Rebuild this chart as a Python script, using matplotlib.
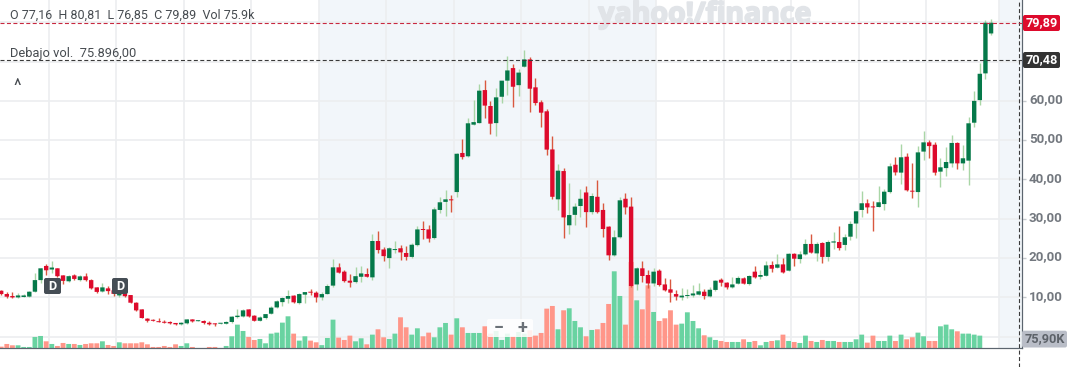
"""Monthly candles with volume, Yahoo Finance style"""
import matplotlib
matplotlib.use('Agg')
import matplotlib.pyplot as plt
import matplotlib.patheffects as pe
from matplotlib.lines import Line2D
from matplotlib.patches import FancyBboxPatch
from matplotlib.transforms import IdentityTransform, ScaledTranslation

plt.rcParams['font.family'] = ['Roboto', 'Liberation Sans', 'DejaVu Sans']

UP = '#05794a'
DOWN = '#dd0a2c'
UP_WICK = '#a9d6a6'
DOWN_WICK = '#d9583f'
UP_VOL = '#69d3a1'
DOWN_VOL = '#ff9689'
GRID = '#eceef0'
SHADE = '#f2f6fa'
AXIS_TEXT = '#73787f'
AXIS_LINE = '#5c656f'

# months counted from January 2011
first_month = -9
opens = [11.7, 10.86, 10.35, 10.0, 10.1, 10.2, 11.45, 14.4, 18.0, 17.1, 17.4, 15.6, 14.1, 15.6, 14.4, 15.35,
         14.4, 12.55, 11.5, 12.3, 11.8, 10.5, 11.0, 10.6, 8.65, 6.95, 4.6, 4.3, 3.9, 3.8, 3.75, 3.5,
         3.15, 3.4, 4.4, 3.95, 4.0, 3.55, 3.2, 3.3, 3.3, 3.75, 5.0, 5.15, 6.95, 5.35, 4.05, 4.75,
         5.85, 7.45, 8.8, 9.65, 10.45, 8.55, 10.7, 11.4, 11.2, 10.0, 10.85, 13.0, 17.65, 16.55, 14.25, 13.9,
         15.25, 15.95, 15.1, 24.35, 22.2, 20.0, 22.05, 22.5, 21.3, 20.3, 23.3, 27.3, 27.3, 25.1, 32.25, 34.3,
         34.85, 36.8, 46.75, 45.9, 53.95, 54.35, 62.75, 58.7, 54.35, 61.05, 65.15, 68.35, 64.0, 68.7, 70.55, 63.45,
         59.65, 57.35, 47.65, 34.95, 42.15, 28.35, 31.0, 33.25, 36.7, 31.7, 35.6, 32.25, 28.0, 20.7, 25.3, 35.1,
         33.1, 13.3, 17.4, 15.7, 13.55, 16.8, 13.3, 12.05, 10.85, 10.0, 10.35, 10.5, 10.7, 11.45, 10.25, 11.9,
         14.5, 13.75, 12.55, 13.5, 14.85, 13.4, 16.55, 15.25, 15.5, 18.25, 17.55, 18.4, 16.8, 21.1, 19.75, 20.95,
         23.6, 21.2, 23.85, 20.3, 23.95, 24.1, 23.35, 25.45, 28.8, 32.25, 33.95, 33.1, 33.0, 33.75, 36.8, 43.75,
         41.75, 45.8, 37.15, 36.8, 47.1, 49.45, 48.85, 42.0, 42.9, 44.1, 49.3, 44.1, 44.8, 54.45, 60.2, 67.0, 77.16]
highs = [12.0, 11.4, 11.4, 11.2, 10.8, 11.7, 16.1, 17.55, 18.4, 19.25, 17.55, 15.7, 15.6, 15.9, 15.6, 16.1,
         14.6, 12.7, 13.7, 13.0, 11.8, 12.0, 11.2, 10.7, 8.8, 7.0, 4.85, 4.55, 4.7, 4.3, 3.9, 3.55,
         3.75, 4.6, 4.6, 4.2, 4.15, 4.0, 3.5, 3.5, 4.0, 5.35, 7.05, 7.05, 7.1, 5.5, 5.2, 5.9,
         7.7, 9.35, 10.2, 11.8, 10.7, 11.0, 11.45, 12.05, 11.6, 11.5, 13.3, 19.75, 18.8, 17.0, 15.85, 17.65,
         18.0, 17.4, 26.05, 26.8, 22.9, 22.75, 24.25, 23.25, 23.05, 23.9, 28.05, 29.35, 28.5, 33.1, 35.45, 37.3,
         36.15, 46.8, 50.3, 55.55, 60.2, 64.3, 65.3, 60.0, 63.2, 65.15, 71.4, 69.4, 68.0, 72.95, 71.1, 65.8,
         60.2, 57.95, 51.15, 43.95, 42.9, 39.0, 34.1, 37.5, 38.4, 36.5, 39.85, 33.9, 28.25, 27.15, 35.45, 36.5,
         35.6, 17.8, 19.15, 17.0, 17.4, 17.1, 14.95, 14.6, 11.8, 12.45, 12.2, 13.15, 13.6, 12.2, 12.55, 14.4,
         14.85, 13.9, 15.25, 15.45, 15.1, 15.6, 18.0, 17.0, 19.35, 19.35, 21.1, 19.95, 21.3, 21.4, 21.7, 24.75,
         26.05, 24.2, 24.1, 24.5, 26.65, 28.1, 26.05, 29.35, 32.1, 37.05, 34.95, 34.45, 38.35, 37.65, 44.3, 45.65,
         48.95, 46.8, 44.3, 48.4, 52.35, 50.0, 49.55, 45.45, 48.2, 51.4, 49.6, 48.8, 55.8, 62.6, 69.7, 80.6, 80.81]
lows = [10.6, 9.84, 9.9, 9.9, 10.0, 10.0, 11.3, 13.7, 15.7, 16.1, 15.3, 13.4, 13.9, 14.5, 14.25, 14.25,
        12.1, 11.2, 11.4, 10.9, 10.3, 10.2, 10.1, 8.5, 6.6, 4.7, 3.8, 3.9, 3.65, 3.5, 3.2, 3.05,
        2.95, 3.2, 3.75, 3.9, 3.3, 2.9, 2.8, 3.2, 3.15, 3.55, 4.85, 5.0, 5.0, 3.9, 3.9, 4.6,
        5.7, 7.3, 7.8, 8.65, 8.55, 8.4, 8.65, 10.7, 8.8, 9.35, 10.85, 12.7, 16.1, 13.8, 12.7, 13.75,
        14.0, 15.1, 14.4, 21.2, 19.35, 17.55, 21.2, 19.5, 19.5, 20.0, 23.05, 24.75, 24.1, 24.95, 31.55, 30.8,
        31.7, 35.6, 45.2, 45.7, 53.75, 54.3, 55.55, 51.5, 51.0, 59.55, 61.5, 58.5, 61.25, 68.55, 57.15, 58.85,
        53.45, 46.3, 35.1, 32.25, 25.1, 26.1, 28.35, 30.55, 28.0, 31.1, 31.55, 25.45, 19.5, 20.5, 25.1, 31.2,
        12.7, 12.0, 13.8, 12.45, 12.9, 12.8, 11.65, 8.85, 9.35, 9.35, 9.75, 10.2, 10.5, 9.5, 10.1, 11.7,
        12.9, 12.2, 12.4, 13.3, 13.3, 13.25, 14.95, 14.75, 15.35, 16.4, 17.4, 16.2, 16.6, 18.0, 18.85, 20.7,
        21.2, 19.35, 18.85, 19.35, 22.4, 22.05, 22.05, 24.6, 25.1, 30.4, 31.55, 27.0, 32.9, 32.25, 36.65, 41.05,
        38.85, 37.05, 35.35, 33.1, 44.95, 45.55, 41.15, 38.2, 40.9, 43.25, 42.6, 42.4, 38.6, 53.25, 58.95, 65.65, 76.85]
closes = [10.86, 10.18, 10.0, 10.5, 10.5, 11.45, 14.4, 17.4, 16.9, 17.6, 15.4, 14.2, 15.4, 14.7, 15.35, 14.4,
          12.3, 11.4, 12.55, 11.6, 10.9, 11.0, 10.3, 8.65, 6.7, 4.75, 4.05, 4.05, 3.7, 3.55, 3.4, 3.15,
          3.55, 4.4, 3.9, 4.15, 3.5, 3.15, 3.15, 3.4, 3.75, 5.1, 5.35, 6.7, 5.15, 4.05, 4.9, 5.75,
          7.4, 9.0, 9.85, 10.35, 8.75, 10.85, 11.35, 11.2, 10.0, 10.85, 12.9, 17.65, 16.3, 14.15, 13.75, 15.4,
          16.1, 15.25, 24.35, 22.05, 20.5, 22.5, 22.2, 21.45, 20.3, 23.4, 27.3, 27.15, 24.95, 32.4, 34.2, 34.95,
          34.7, 46.55, 45.7, 54.3, 54.6, 62.6, 58.8, 54.2, 60.9, 65.15, 67.75, 63.6, 67.2, 70.55, 63.1, 59.45,
          57.0, 47.6, 35.6, 42.25, 30.35, 30.95, 33.1, 35.1, 31.7, 35.8, 31.7, 27.4, 20.7, 25.3, 34.7, 32.9,
          12.9, 17.4, 15.45, 13.55, 16.55, 13.15, 11.8, 11.2, 10.2, 10.45, 10.5, 11.0, 11.55, 10.35, 11.95, 14.25,
          13.75, 12.55, 13.3, 14.95, 13.5, 15.45, 15.1, 15.7, 18.15, 17.3, 18.4, 16.35, 21.1, 19.85, 20.95, 23.6,
          21.4, 23.6, 20.3, 24.1, 24.25, 22.55, 25.3, 28.7, 31.9, 33.95, 32.9, 32.9, 34.2, 36.9, 43.35, 41.8,
          45.65, 37.25, 36.9, 46.9, 49.45, 48.5, 41.75, 43.1, 44.45, 49.3, 44.1, 45.4, 54.3, 60.0, 66.9, 79.89, 79.89]
# volume in thousands, the two last months carry none
volumes = [10, 26, 18, 18, 8, 8, 68, 74, 42, 26, 14, 32, 26, 26, 20, 26,
           30, 30, 42, 20, 14, 36, 30, 30, 30, 36, 24, 8, 8, 14, 8, 24,
           14, 30, 8, 2, 2, 8, 8, 2, 14, 72, 142, 104, 68, 50, 56, 30,
           88, 94, 154, 192, 88, 46, 72, 46, 36, 19, 62, 172, 64, 50, 76, 42,
           60, 24, 82, 114, 66, 56, 88, 186, 126, 82, 120, 72, 94, 66, 126, 152,
           82, 180, 126, 92, 92, 92, 132, 88, 104, 50, 88, 72, 98, 88, 108, 76,
           92, 238, 254, 114, 228, 240, 164, 126, 72, 110, 114, 152, 266, 462, 314, 142,
           518, 288, 234, 378, 218, 164, 180, 228, 142, 148, 216, 164, 120, 78, 66, 50,
           44, 38, 38, 38, 54, 38, 44, 18, 38, 44, 48, 82, 44, 38, 32, 76,
           44, 38, 50, 44, 44, 38, 38, 38, 54, 82, 34, 76, 44, 44, 76, 44,
           82, 54, 66, 94, 72, 44, 44, 132, 142, 114, 102, 88, 88, 82, 76, 0, 0]
price_ticks = [10, 20, 30, 40, 50, 60]
price_labels = ['10,00', '20,00', '30,00', '40,00', '50,00', '60,00']
year_labels = ['2011', '2012', '2013', '2014', '2015', '2016', '2017', '2018', '2019', '2020', '2021', '2022',
               '2023', '2024', '2025']
year_ticks = [-0.5, 11.5, 23.5, 35.5, 47.5, 59.5, 71.5, 83.5, 95.5, 107.5, 119.5, 131.5, 143.5, 155.5, 168.4]
last_close = 79.89
prev_level = 70.48

W, H = 1068, 367
AX_W, AX_H = 1022, 348.3
fig = plt.figure(figsize=(W / 100, H / 100), dpi=100, facecolor='white')
ax = fig.add_axes([0, 1 - AX_H / H, AX_W / W, AX_H / H])
vol_ax = ax.twinx()
ax.set_zorder(2)
ax.patch.set_visible(False)
vol_ax.set_zorder(1)

ax.set_xlim(-9.21, 172.5)
ax.set_ylim(-2.95, 85.67)
vol_ax.set_ylim(0, 2090)

vol_ax.axvspan(47.5, 107.5, color=SHADE, lw=0, zorder=0)
vol_ax.axvspan(168.4, 172.5, color=SHADE, lw=0, zorder=0)
for t in year_ticks:
    vol_ax.axvline(t, color=GRID, lw=1.2, zorder=1)
for p in [0] + price_ticks + [70, 80]:
    vol_ax.axhline((p + 2.95) / 88.62 * 2090, color=GRID, lw=1.2, zorder=1)

# watermark sits under the marks, over the shading
wm = vol_ax.text(705 / W, 1 - 15 / H, 'yahoo!/finance', transform=fig.transFigure, fontsize=20.5,
                 fontweight='bold', color='#e1e4e8', va='center', ha='center',
                 family=['Open Sans', 'DejaVu Sans'], zorder=1.5)
wm.set_path_effects([pe.withStroke(linewidth=1.3, foreground='#e1e4e8')])

months = [first_month + i for i in range(len(opens))]
vol_colors = [UP_VOL if c >= o else DOWN_VOL for o, c in zip(opens, closes)]
vol_bars = vol_ax.bar(months, volumes, width=0.86, color=vol_colors, lw=0, zorder=2)
for b in vol_bars:
    b.set_snap(False)

for m, o, h, l, c in zip(months, opens, highs, lows, closes):
    up = c >= o
    ax.vlines(m, l, h, color=UP_WICK if up else DOWN_WICK, lw=1.0, zorder=3)
    body = ax.bar(m, max(abs(c - o), 0.25), bottom=min(o, c), width=0.78,
                  color=UP if up else DOWN, lw=0, zorder=4)
    body[0].set_snap(False)

ax.axhline(last_close, color='#c8283f', lw=0.8, dashes=(3.6, 2.2), zorder=5)
ax.axhline(prev_level, color='#3a3a3a', lw=0.8, dashes=(3.6, 2.2), zorder=5)

ax.set_xticks(year_ticks)
ax.set_xticklabels(year_labels)
ax.set_yticks(price_ticks)
ax.set_yticklabels(price_labels)
ax.yaxis.tick_right()
ax.tick_params(axis='x', length=4, width=1, color=AXIS_LINE, labelcolor=AXIS_TEXT, labelsize=9.2, pad=2)
ax.tick_params(axis='y', length=3, width=1, color='#c5c9cd', labelcolor=AXIS_TEXT, labelsize=9.6, pad=2)
for lab in ax.get_xticklabels():
    lab.set_fontweight('bold')
lift = ScaledTranslation(0, 2 / 72, fig.dpi_scale_trans)
for lab in ax.get_yticklabels():
    lab.set_fontweight('bold')
    lab.set_transform(lab.get_transform() + lift)
vol_ax.set_yticks([])
vol_ax.set_xticks([])
for a in (ax, vol_ax):
    a.spines['top'].set_visible(False)
    a.spines['left'].set_visible(False)
    a.spines['bottom'].set_color(AXIS_LINE)
    a.spines['right'].set_color(AXIS_LINE)


def px(x, y):
    return x / W, 1 - y / H


# vertical crosshair runs past the axis down to the edge of the picture
fig.add_artist(Line2D([1018.5 / W] * 2, [0, 1], color='#3a3a3a', lw=0.8, dashes=(3.6, 2.2)))

fig.text(*px(10, 15.5), 'O 77,16  H 80,81  L 76,85  C 79,89  Vol 75.9k', fontsize=9, color='#464b50', va='center')
fig.text(*px(10, 54), 'Debajo vol.  75.896,00', fontsize=9.3, color='#464b50', va='center')
fig.text(*px(17, 87), '^', fontsize=13, color='#464b50', va='center', ha='center')


def label_box(x0, y0, x1, y1, face, text, color, size=9.2, alpha=1, radius=2):
    fig.add_artist(FancyBboxPatch((x0, H - y1), x1 - x0, y1 - y0,
                                  boxstyle=f'round,pad=0,rounding_size={radius}', transform=IdentityTransform(),
                                  facecolor=face, edgecolor='none', alpha=alpha, zorder=6))
    if text:
        fig.text(*px((x0 + x1) / 2, (y0 + y1) / 2), text, color=color, fontsize=size, fontweight='bold',
                 ha='center', va='center', zorder=7)


label_box(1023, 15, 1060, 31, DOWN, '79,89', 'white')
label_box(1023, 52, 1060, 68, '#333333', '70,48', 'white')
label_box(1022, 330.7, 1067, 347.5, '#b9bdc7', '75,90K', '#5d6269')
label_box(44, 278, 61, 294, '#454d55', 'D', 'white')
label_box(112, 278, 128, 294, '#454d55', 'D', 'white')
label_box(487, 319, 533, 337, 'white', '', 'white', alpha=0.85)
fig.text(*px(499, 328), '−', fontsize=13, fontweight='bold', color='#6b7178', ha='center', va='center', zorder=7)
fig.text(*px(522, 328), '+', fontsize=13, fontweight='bold', color='#6b7178', ha='center', va='center', zorder=7)

fig.savefig('out.png', dpi=100)
plt.close()
